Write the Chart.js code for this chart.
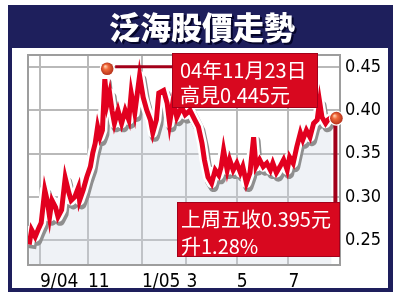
<!DOCTYPE html>
<html>
<head>
<meta charset="utf-8">
<script src="https://cdn.jsdelivr.net/npm/chart.js@4.4.0/dist/chart.umd.min.js"></script>
<style>
  html, body { margin: 0; padding: 0; background: #fff; }
</style>
</head>
<body>
<canvas id="myChart" width="400" height="299"></canvas>
<script>
// trading days counted from 1 Sep 2004
var days = [-9,-7,-4,-1,1,4,6,8,10,13,15,18,21,24,26,29,32,33,36,39,42,44,46,48,50,52,54,56,58,60,62,65,68,71,74,76,79,83,86,89,92,94,97,99,103,106,108,111,114,118,121,125,129,132,135,137,140,143,146,149,151,153,156,158,161,164,167,169,172,175,178,180,183,186,189,192,194,197,200,203,206,208,211,214,217,219,222,225,228,231,233,235,238,240,243];
var prices = [0.245,0.262,0.254,0.264,0.270,0.308,0.296,0.277,0.296,0.288,0.277,0.285,0.322,0.305,0.296,0.300,0.311,0.296,0.308,0.323,0.335,0.351,0.362,0.381,0.369,0.377,0.436,0.408,0.420,0.400,0.385,0.400,0.385,0.400,0.389,0.420,0.397,0.440,0.415,0.400,0.389,0.374,0.389,0.420,0.423,0.408,0.385,0.412,0.392,0.404,0.395,0.400,0.389,0.381,0.362,0.343,0.323,0.316,0.331,0.325,0.335,0.354,0.331,0.343,0.331,0.339,0.328,0.335,0.316,0.328,0.369,0.335,0.343,0.335,0.339,0.331,0.339,0.328,0.335,0.343,0.331,0.346,0.339,0.358,0.374,0.366,0.377,0.369,0.385,0.389,0.410,0.392,0.385,0.389,0.392];
var xTickDays = [0, 40, 85, 122, 164, 207];
var xTickLabels = ['9/04', '11', '1/05', '3', '5', '7'];
var yTicks = [0.25, 0.30, 0.35, 0.40, 0.45];
var markerDays = [56, 247];
var markerPrices = [0.448, 0.391];
var noteHigh = ['04年11月23日', '高見0.445元'];
var noteLast = ['上周五收0.395元', '升1.28%'];
var titleText = '泛海股價走勢';

var points = days.map(function(d, i){ return {x: d, y: prices[i]}; });
var markers = markerDays.map(function(d, i){ return {x: d, y: markerPrices[i]}; });

var NAVY = '#1e1f5c';
var BOXRED = '#d8081f';
var DARKRED = '#a3001a';

var framePlugin = {
    id: 'frame',
    beforeDraw: function(chart){
        var c = chart.ctx;
        c.save();
        c.fillStyle = '#fff';
        c.fillRect(0, 0, chart.width, chart.height);
        c.fillStyle = NAVY;
        c.fillRect(8, 5, 385, 287);
        c.fillStyle = '#fff';
        c.fillRect(12, 48, 376, 240);
        c.font = '900 31px "Noto Sans CJK TC"';
        c.textAlign = 'center';
        c.textBaseline = 'middle';
        c.fillStyle = '#05052a';
        c.fillText(titleText, 204, 29);
        c.fillStyle = '#fff';
        c.fillText(titleText, 202, 27);
        c.restore();
    },
    beforeDatasetsDraw: function(chart){
        var a = chart.chartArea, c = chart.ctx;
        c.save();
        c.strokeStyle = '#9d9d9d';
        c.lineWidth = 2;
        c.strokeRect(a.left, a.top, a.right - a.left, a.bottom - a.top);
        c.restore();
    },
    beforeDatasetDraw: function(chart, args){
        if (args.index !== 2) return;
        var c = chart.ctx;
        c.save();
        c.shadowColor = '#8f8f8f';
        c.shadowOffsetX = 2;
        c.shadowOffsetY = 4;
        c.shadowBlur = 0;
    },
    afterDatasetDraw: function(chart, args){
        if (args.index !== 2) return;
        chart.ctx.restore();
    },
    afterDatasetsDraw: function(chart){
        var c = chart.ctx;
        var pts = chart.getDatasetMeta(0).data;
        var p1 = pts[0], p2 = pts[1];
        c.save();
        // connectors
        c.strokeStyle = DARKRED;
        c.lineWidth = 3;
        c.beginPath();
        c.moveTo(p1.x + 8, p1.y - 2);
        c.lineTo(172, p1.y - 2);
        c.stroke();
        c.lineWidth = 4;
        c.beginPath();
        c.moveTo(p2.x - 1, p2.y + 6);
        c.lineTo(p2.x - 1, 202);
        c.stroke();
        // boxes
        function box(x, y, w, h, lines, tx, ty, lh){
            c.fillStyle = BOXRED;
            c.fillRect(x, y, w, h);
            c.strokeStyle = DARKRED;
            c.lineWidth = 1;
            c.strokeRect(x + 0.5, y + 0.5, w - 1, h - 1);
            c.fillStyle = '#fff';
            c.font = '20px "Noto Sans CJK TC"';
            c.textAlign = 'left';
            c.textBaseline = 'middle';
            lines.forEach(function(t, i){ c.fillText(t, tx, ty + i * lh); });
        }
        box(172, 53, 146, 55, noteHigh, 180, 70, 25);
        box(177, 202, 163, 55, noteLast, 181, 219, 27);
        // balls
        [p1, p2].forEach(function(p){
            c.beginPath();
            c.arc(p.x, p.y, 7.5, 0, Math.PI * 2);
            c.fillStyle = '#fff';
            c.fill();
            var g = c.createRadialGradient(p.x - 2, p.y - 2.5, 0.5, p.x, p.y, 6.5);
            g.addColorStop(0, '#ffc9a8');
            g.addColorStop(0.35, '#f06a3a');
            g.addColorStop(1, '#b4301a');
            c.beginPath();
            c.arc(p.x, p.y, 6.3, 0, Math.PI * 2);
            c.fillStyle = g;
            c.fill();
        });
        c.restore();
    }
};

var ctx = document.getElementById('myChart').getContext('2d');
var chart = new Chart(ctx, {
    type: 'line',
    data: {
        datasets: [{
            type: 'scatter',
            data: markers,
            pointRadius: 0,
            showLine: false,
            order: 0
        }, {
            data: points,
            borderColor: '#e2001f',
            borderWidth: 5,
            pointRadius: 0,
            tension: 0,
            fill: false,
            order: 1
        }, {
            data: points,
            borderColor: '#ffffff',
            borderWidth: 10,
            borderJoinStyle: 'round',
            pointRadius: 0,
            tension: 0,
            fill: 'start',
            backgroundColor: 'rgba(205,215,228,0.33)',
            order: 2
        }]
    },
    options: {
        responsive: false,
        animation: false,
        devicePixelRatio: 1,
        layout: { padding: { left: 28, top: 55, right: 0, bottom: 0 } },
        plugins: {
            legend: { display: false },
            tooltip: { enabled: false },
            filler: { drawTime: 'beforeDatasetsDraw' }
        },
        scales: {
            x: {
                type: 'linear',
                min: -10,
                max: 250,
                afterBuildTicks: function(s){ s.ticks = xTickDays.map(function(v){ return {value: v}; }); },
                afterFit: function(s){ s.height = 34; },
                grid: { color: '#b9b9b9', lineWidth: 2, drawTicks: false },
                border: { display: false },
                ticks: {
                    align: 'start',
                    autoSkip: false,
                    maxRotation: 0,
                    padding: 6,
                    color: '#000',
                    font: { family: '"Liberation Sans Narrow", "DejaVu Sans Condensed", sans-serif', size: 19 },
                    callback: function(v){ return xTickLabels[xTickDays.indexOf(v)]; }
                }
            },
            y: {
                position: 'right',
                min: 0.2214,
                max: 0.4639,
                afterBuildTicks: function(s){ s.ticks = yTicks.map(function(v){ return {value: v}; }); },
                afterFit: function(s){ s.width = 60; },
                grid: { color: '#b9b9b9', lineWidth: 2, drawTicks: false },
                border: { display: false },
                ticks: {
                    padding: 5,
                    color: '#000',
                    font: { family: '"Liberation Sans Narrow", "DejaVu Sans Condensed", sans-serif', size: 18 },
                    callback: function(v){ return v.toFixed(2); }
                }
            }
        }
    },
    plugins: [framePlugin]
});
</script>
</body>
</html>
